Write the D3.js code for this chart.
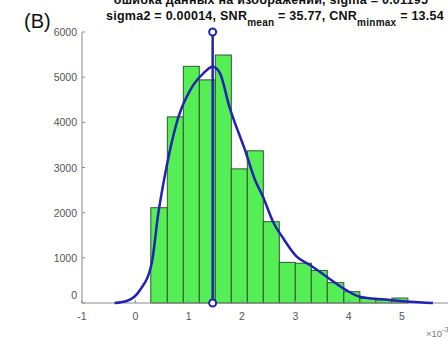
<!DOCTYPE html>
<html>
<head>
<meta charset="utf-8">
<script src="https://cdn.jsdelivr.net/npm/d3@7"></script>
<style>
  body { margin: 0; background: #fff; }
  svg { display: block; font-family: "Liberation Sans", Arial, sans-serif; }
</style>
</head>
<body>
<svg id="chart" width="448" height="340"></svg>
<script>
// histogram bin edges (x in units of 1e-3) and counts
var binEdges = [0.29, 0.60, 0.90, 1.20, 1.50, 1.80, 2.10, 2.40, 2.70, 3.00, 3.30, 3.60, 3.91, 4.21, 4.51, 4.81, 5.11];
var binCounts = [2110, 4120, 5240, 4940, 5490, 2970, 3370, 1800, 900, 880, 720, 450, 250, 100, 70, 110];

// density fit curve
var fitX = [-0.39, -0.15, 0.088, 0.307, 0.431, 0.538, 0.806, 1.026, 1.275, 1.451, 1.588, 1.763, 2.057, 2.245, 2.394, 2.582, 2.769, 3.026, 3.276, 3.589, 3.90, 4.21, 4.77, 5.15, 5.58];
var fitY = [0, 50, 288, 879, 1986, 2723, 4111, 4709, 5085, 5231, 5085, 4346, 3387, 2723, 2353, 1800, 1439, 1025, 841, 582, 325, 139, 66, 29, 0];

var meanX = 1.45;
var meanTop = 6000;

var xTicks = [-1, 0, 1, 2, 3, 4, 5];
var yTicks = [0, 1000, 2000, 3000, 4000, 5000, 6000];

var svg = d3.select("#chart");

var x = d3.scaleLinear().domain([-1, 6]).range([82, 455.3]);
var y = d3.scaleLinear().domain([0, 6000]).range([303, 32]);

// bars
var bars = binCounts.map(function(c, i) { return { x0: binEdges[i], x1: binEdges[i + 1], n: c }; });
svg.append("g").selectAll("rect")
    .data(bars)
    .enter().append("rect")
    .attr("x", function(d) { return x(d.x0); })
    .attr("y", function(d) { return y(d.n); })
    .attr("width", function(d) { return x(d.x1) - x(d.x0); })
    .attr("height", function(d) { return y(0) - y(d.n); })
    .style("fill", "#55ee55")
    .style("stroke", "#2f5a2f")
    .style("stroke-width", 1);

// axes (box off, ticks inside)
var axisColor = "#8a8a8a", labelColor = "#555";
var gx = svg.append("g").attr("transform", "translate(0," + y(0) + ")");
gx.append("line").attr("x1", x(-1)).attr("x2", 448).style("stroke", axisColor);
gx.selectAll(".t").data(xTicks).enter().append("line")
    .attr("x1", function(d) { return x(d); }).attr("x2", function(d) { return x(d); })
    .attr("y1", 0).attr("y2", -3).style("stroke", axisColor);
gx.selectAll("text").data(xTicks).enter().append("text")
    .attr("x", function(d) { return x(d); }).attr("y", 17)
    .attr("text-anchor", "middle")
    .style("font-size", "10.5px").style("fill", labelColor)
    .text(function(d) { return d; });

var gy = svg.append("g").attr("transform", "translate(" + x(-1) + ",0)");
gy.append("line").attr("y1", y(0)).attr("y2", y(6000)).style("stroke", axisColor);
gy.selectAll(".t").data(yTicks).enter().append("line")
    .attr("y1", function(d) { return y(d); }).attr("y2", function(d) { return y(d); })
    .attr("x1", 0).attr("x2", 3).style("stroke", axisColor);
gy.selectAll("text").data(yTicks).enter().append("text")
    .attr("x", -5).attr("y", function(d) { return d === 0 ? y(d) - 4 : y(d) + 4; })
    .attr("text-anchor", "end")
    .style("font-size", "10.5px").style("fill", labelColor)
    .text(function(d) { return d; });

svg.append("text").attr("x", 426).attr("y", 337)
    .style("font-size", "9.5px").style("fill", "#777")
    .text("\u00d710").append("tspan").attr("dy", -5).style("font-size", "7px").text("-3");

// fit curve
var blue = "#2222b4";
var line = d3.line()
    .x(function(d) { return x(d[0]); })
    .y(function(d) { return y(d[1]); })
    .curve(d3.curveMonotoneX);
svg.append("path")
    .datum(fitX.map(function(v, i) { return [v, fitY[i]]; }))
    .attr("d", line)
    .style("fill", "none").style("stroke", blue).style("stroke-width", 2.5);

// mean marker line
svg.append("line")
    .attr("x1", x(meanX)).attr("x2", x(meanX))
    .attr("y1", y(0)).attr("y2", y(meanTop))
    .style("stroke", blue).style("stroke-width", 2.5);
svg.selectAll(".m").data([0, meanTop]).enter().append("circle")
    .attr("cx", x(meanX)).attr("cy", function(d) { return y(d); })
    .attr("r", 3.5)
    .style("fill", "#fff").style("stroke", blue).style("stroke-width", 2);

// titles
var title = svg.append("g").style("font-weight", "bold").style("font-size", "12.5px")
    .style("letter-spacing", "0.25px").style("fill", "#111");
title.append("text").attr("x", 271).attr("y", 4).attr("text-anchor", "middle")
    .text("ошибка данных на изображении, sigma = 0.01195");
var t2 = title.append("text").attr("x", 275).attr("y", 20).attr("text-anchor", "middle");
t2.append("tspan").text("sigma2 = 0.00014, SNR");
t2.append("tspan").attr("dy", 6).style("font-size", "10px").text("mean");
t2.append("tspan").attr("dy", -6).text(" = 35.77, CNR");
t2.append("tspan").attr("dy", 6).style("font-size", "10px").text("minmax");
t2.append("tspan").attr("dy", -6).text(" = 13.54");

svg.append("text").attr("x", 24).attr("y", 28)
    .style("font-size", "20px").style("fill", "#111")
    .text("(В)");
</script>
</body>
</html>
